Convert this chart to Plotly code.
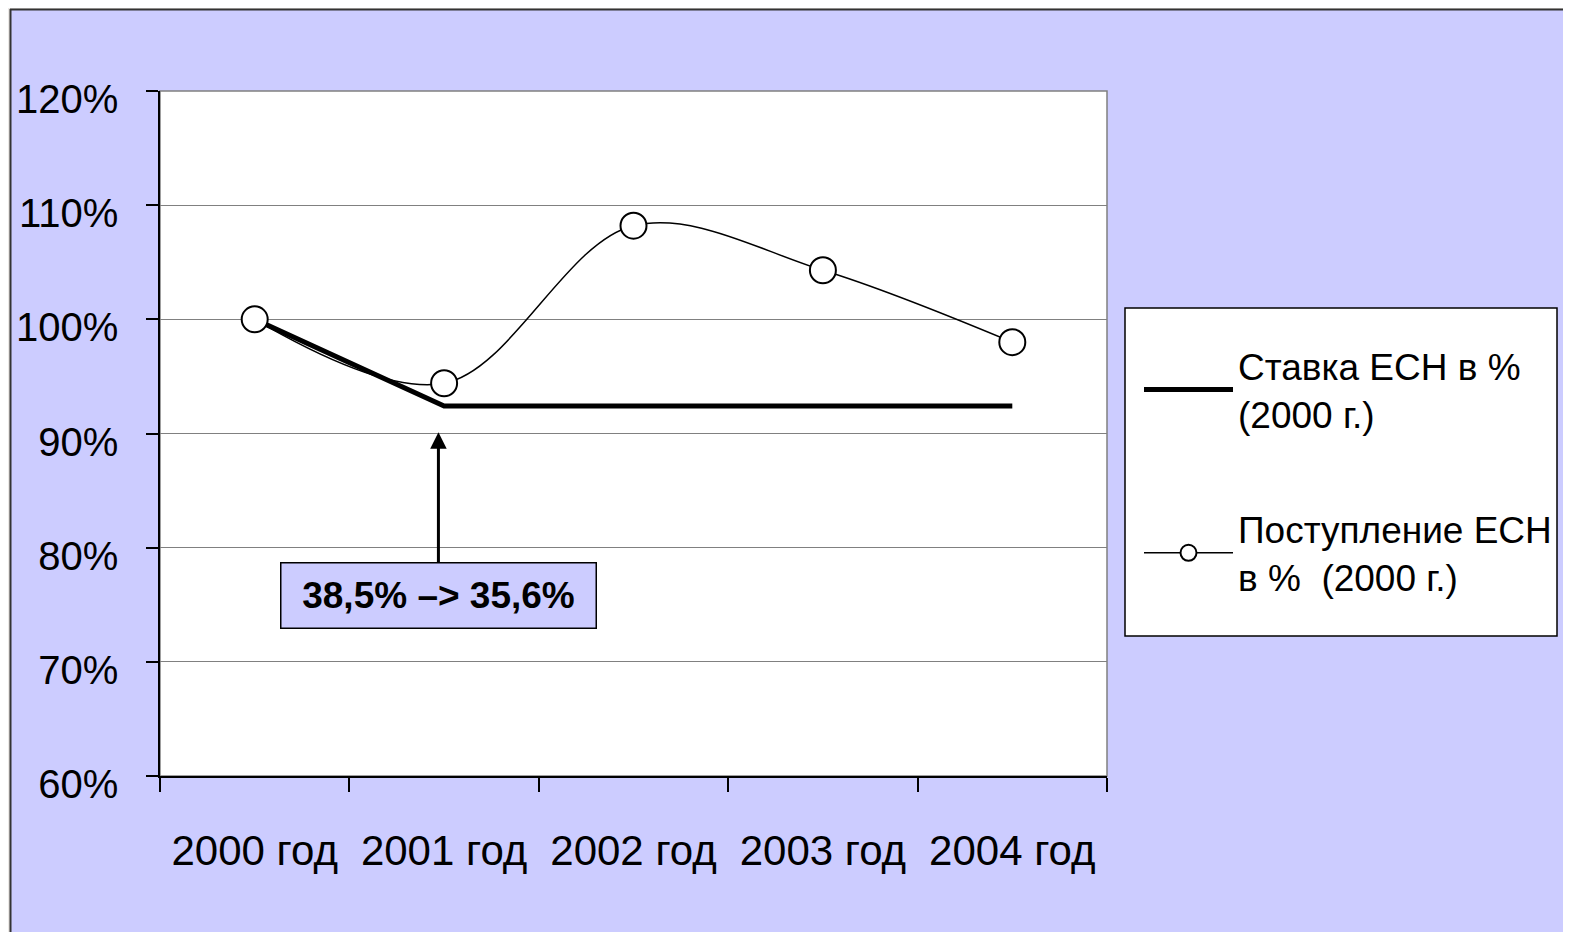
import plotly.graph_objects as go

# data (values in % of 2000)
years = ["2000 год", "2001 год", "2002 год", "2003 год", "2004 год"]
rate_pct = [100.0, 92.4, 92.4, 92.4, 92.4]
revenue_pct = [100.0, 94.4, 108.2, 104.3, 98.0]
y_ticks = [60, 70, 80, 90, 100, 110, 120]
y_tick_text = ["60%", "70%", "80%", "90%", "100%", "110%", "120%"]

name_rate = "Ставка ЕСН в %<br>(2000 г.)"
name_rev = "Поступление ЕСН<br>в %  (2000 г.)"
note_text = "38,5% –> 35,6%"

LAVENDER = "#CCCCFF"
FONT = "Liberation Sans, Arial, sans-serif"

# page body has an 8px margin, so the figure is 8px smaller and margins shifted
W, H = 1563, 924
ML, MT, MR, MB = 152, 83, 464, 156
PW, PH = W - ML - MR, H - MT - MB


def px_x(p):
    return (p - ML) / PW


def px_y(p):
    return (H - MB - p) / PH


fig = go.Figure()
fig.add_trace(go.Scatter(
    x=years, y=rate_pct, name=name_rate, mode="lines", legendgroup="a",
    line=dict(color="black", width=5),
))
fig.add_trace(go.Scatter(
    x=years, y=revenue_pct, name=name_rev, mode="lines+markers", legendgroup="b",
    line=dict(color="black", width=1.5, shape="spline", smoothing=1.0),
    marker=dict(symbol="circle", size=26, color="white", line=dict(color="black", width=2)),
))

# arrow + boxed note pointing at the 2001 rate drop
fig.add_annotation(
    x=0.97, y=90.1, xref="x", yref="y",
    ax=0, ay=163, axref="pixel", ayref="pixel",
    text=f"<b>{note_text}</b>",
    font=dict(family=FONT, size=37, color="black"),
    showarrow=True, arrowhead=2, arrowsize=1.1, arrowwidth=3, arrowcolor="black",
    bgcolor=LAVENDER, bordercolor="black", borderwidth=1.5, borderpad=2,
    width=310, height=60,
)

shapes = [
    # light frame around the slide (top and left)
    dict(type="rect", xref="paper", yref="paper", x0=px_x(0), x1=px_x(W), y0=px_y(1), y1=px_y(0),
         line=dict(width=0), fillcolor="#ECE9E6", layer="below"),
    dict(type="rect", xref="paper", yref="paper", x0=px_x(0), x1=px_x(2), y0=px_y(H), y1=px_y(0),
         line=dict(width=0), fillcolor="#ECE9E6", layer="below"),
    dict(type="line", xref="paper", yref="paper", x0=px_x(2), x1=px_x(W), y0=px_y(1.5), y1=px_y(1.5),
         line=dict(color="#333333", width=2), layer="below"),
    dict(type="line", xref="paper", yref="paper", x0=px_x(2.5), x1=px_x(2.5), y0=px_y(1), y1=px_y(H),
         line=dict(color="#333333", width=2), layer="below"),
    # legend box
    dict(type="rect", xref="paper", yref="paper", x0=px_x(1117), x1=px_x(1549), y0=px_y(628), y1=px_y(300),
         line=dict(color="black", width=1.5), fillcolor="white", layer="below"),
    # plot area frame (top/right gray)
    dict(type="rect", xref="paper", yref="paper", x0=0, x1=1, y0=0, y1=1,
         line=dict(color="#808080", width=1.5), layer="below"),
]

fig.update_layout(
    width=W, height=H,
    paper_bgcolor=LAVENDER, plot_bgcolor="white",
    font=dict(family=FONT, size=40, color="black"),
    margin=dict(l=ML, r=MR, t=MT, b=MB),
    shapes=shapes,
    showlegend=True,
    legend=dict(
        x=px_x(1131), y=px_y(327), xanchor="left", yanchor="top",
        bgcolor="rgba(0,0,0,0)", borderwidth=0,
        font=dict(family=FONT, size=37, color="black"),
        traceorder="grouped", tracegroupgap=64, itemwidth=89,
    ),
    xaxis=dict(
        type="category", range=[-0.5, 4.5], tickson="boundaries", showgrid=False,
        ticks="outside", ticklen=14, tickcolor="black", tickwidth=1.5,
        showline=True, linecolor="black", linewidth=1.5, automargin=False,
        ticklabelstandoff=37, tickfont=dict(size=42),
    ),
    yaxis=dict(
        range=[60, 120], tickmode="array", tickvals=y_ticks, ticktext=y_tick_text,
        showgrid=True, gridcolor="#808080", gridwidth=1,
        ticks="outside", ticklen=12, tickcolor="black", tickwidth=1.5,
        showline=True, linecolor="black", linewidth=1.5, automargin=False,
        ticklabelstandoff=20, ticklabelshift=8, tickfont=dict(size=40), zeroline=False,
    ),
)

fig.write_html("out.html")
